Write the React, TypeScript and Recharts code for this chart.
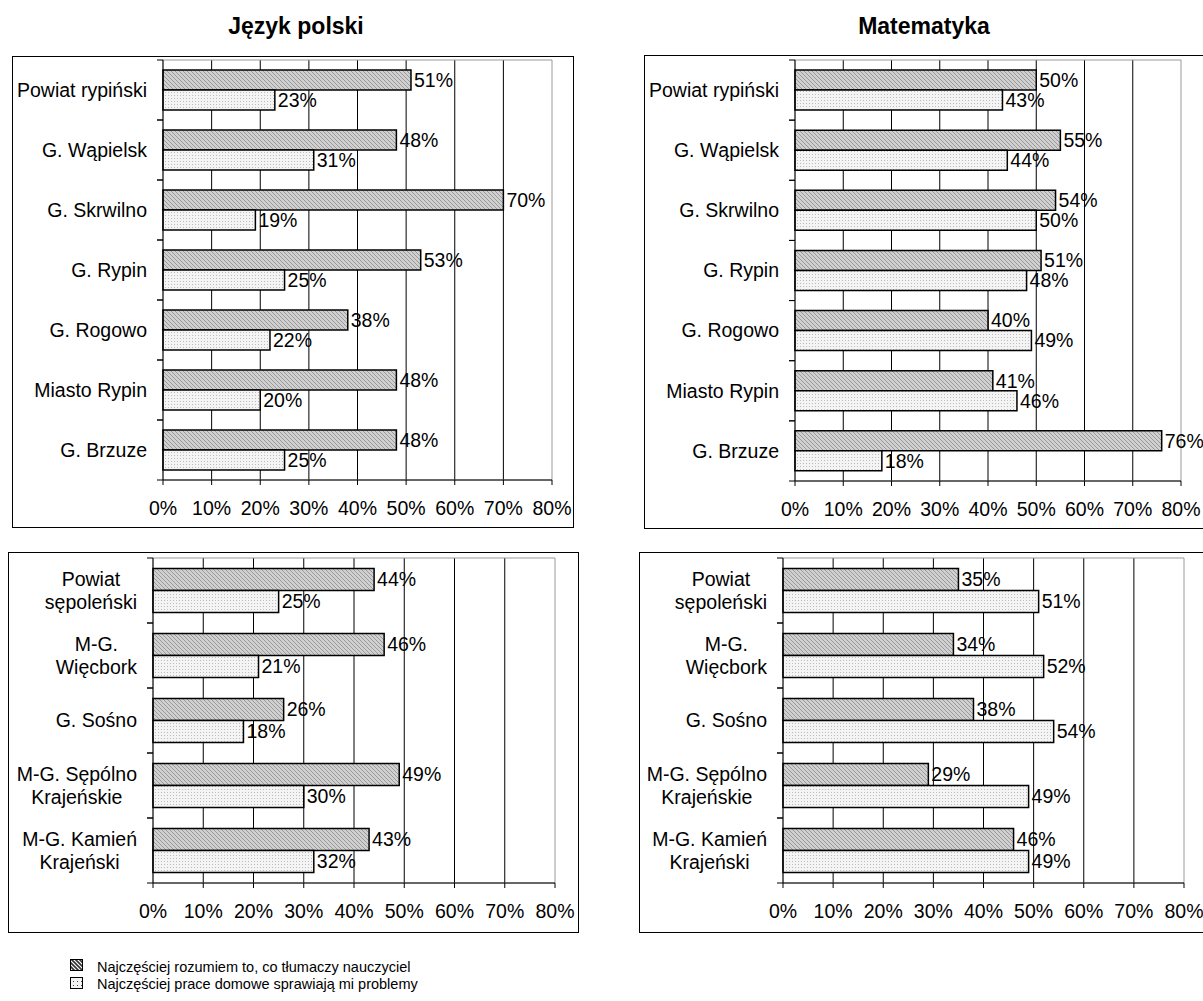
import React from 'react';
import { BarChart, Bar, XAxis, YAxis, CartesianGrid, LabelList, ReferenceArea } from 'recharts';

const FONT = "'Liberation Sans', Arial, Helvetica, sans-serif";
const FS = 19.5;

const titles = ['Język polski', 'Matematyka'];
const seriesNames = [
  'Najczęściej rozumiem to, co tłumaczy nauczyciel',
  'Najczęściej prace domowe sprawiają mi problemy',
];

const rypinCategories = ['Powiat rypiński', 'G. Wąpielsk', 'G. Skrwilno', 'G. Rypin', 'G. Rogowo', 'Miasto Rypin', 'G. Brzuze'];
const rypinLabelLines = [['Powiat rypiński'], ['G. Wąpielsk'], ['G. Skrwilno'], ['G. Rypin'], ['G. Rogowo'], ['Miasto Rypin'], ['G. Brzuze']];
const rypinPolskiRozumiem = [51, 48, 70, 53, 38, 48, 48];
const rypinPolskiProblemy = [23, 31, 19, 25, 22, 20, 25];
const rypinMatRozumiem = [50, 55, 54, 51, 40, 41, 76];
const rypinMatProblemy = [43, 44, 50, 48, 49, 46, 18];

const sepCategories = ['Powiat sępoleński', 'M-G. Więcbork', 'G. Sośno', 'M-G. Sępólno Krajeńskie', 'M-G. Kamień Krajeński'];
const sepLabelLines = [['Powiat', 'sępoleński'], ['M-G.', 'Więcbork'], ['G. Sośno'], ['M-G. Sępólno', 'Krajeńskie'], ['M-G. Kamień', 'Krajeński']];
const sepPolskiRozumiem = [44, 46, 26, 49, 43];
const sepPolskiProblemy = [25, 21, 18, 30, 32];
const sepMatRozumiem = [35, 34, 38, 29, 46];
const sepMatProblemy = [51, 52, 54, 49, 49];

const xTicks = [0, 10, 20, 30, 40, 50, 60, 70, 80];
const gridValues = [10, 20, 30, 40, 50, 60, 70];

let measureCtx: CanvasRenderingContext2D | null = null;
function textWidth(s: string, size: number): number {
  if (!measureCtx) {
    const c = document.createElement('canvas');
    measureCtx = c.getContext('2d');
  }
  if (!measureCtx) return s.length * size * 0.5;
  measureCtx.font = `${size}px "Liberation Sans", Arial, sans-serif`;
  return measureCtx.measureText(s).width;
}

type Rect = { left: number; top: number; width: number; height: number };
type PlotR = { left: number; top: number; right: number; bottom: number };

function Patterns({ id }: { id: string }) {
  return (
    <defs>
      <pattern id={`hatch-${id}`} width="4" height="4" patternUnits="userSpaceOnUse">
        <rect width="4" height="4" fill="#d0d0d0" />
        <path d="M0,0 L4,4 M-1,3 L1,5 M3,-1 L5,1" stroke="#9a9a9a" strokeWidth="1" />
      </pattern>
      <pattern id={`dots-${id}`} width="3" height="3" patternUnits="userSpaceOnUse">
        <rect width="3" height="3" fill="#f4f4f4" />
        <rect width="1" height="1" fill="#bcbcbc" />
      </pattern>
    </defs>
  );
}

function Panel(props: {
  id: string;
  box: Rect;
  boxExtra: number;
  plot: PlotR;
  names: string[];
  lines: string[][];
  a: number[];
  b: number[];
  catGap: number;
}) {
  const { id, box, boxExtra, plot, names, lines, a, b, catGap } = props;
  const data = names.map((n, i) => ({ name: n, a: a[i], b: b[i] }));
  const yWidth = plot.left - box.left;
  const marginTop = plot.top - box.top;
  const xHeight = box.top + box.height - plot.bottom;
  const marginRight = box.left + box.width - plot.right;
  const band = (plot.bottom - plot.top) / names.length;

  const renderTick = (tp: any) => {
    const y = tp.y;
    const idx = names.indexOf(tp.payload?.value);
    const ls = idx >= 0 ? lines[idx] : [String(tp.payload?.value)];
    const maxW = Math.max(...ls.map((l) => textWidth(l, FS)));
    const cx = yWidth - 16 - maxW / 2;
    const n = ls.length;
    return (
      <g>
        <line x1={yWidth - 6} x2={yWidth} y1={y - band / 2} y2={y - band / 2} stroke="#000" strokeWidth={1} />
        <line x1={yWidth - 6} x2={yWidth} y1={y + band / 2} y2={y + band / 2} stroke="#000" strokeWidth={1} />
        {ls.map((l, i) => (
          <text
            key={i}
            x={cx}
            y={y + (i - (n - 1) / 2) * 23}
            dy="0.35em"
            textAnchor="middle"
            fontSize={FS}
            fontFamily={FONT}
            fill="#000"
          >
            {l}
          </text>
        ))}
      </g>
    );
  };

  return (
    <>
      <div
        style={{
          position: 'absolute',
          left: box.left,
          top: box.top,
          width: box.width + boxExtra,
          height: box.height,
          border: '1.5px solid #000',
          boxSizing: 'border-box',
          background: '#fff',
        }}
      />
      <div style={{ position: 'absolute', left: box.left, top: box.top }}>
        <BarChart
          width={box.width}
          height={box.height}
          data={data}
          layout="vertical"
          margin={{ top: marginTop, right: marginRight, bottom: 0, left: 0 }}
          barCategoryGap={catGap}
          barGap={0}
        >
          <Patterns id={id} />
          <CartesianGrid horizontal={false} vertical={true} stroke="#000" strokeWidth={1} verticalValues={gridValues} />
          <ReferenceArea x1={0} x2={80} fill="none" stroke="#9a9a9a" strokeWidth={1} />
          <XAxis
            type="number"
            domain={[0, 80]}
            ticks={xTicks}
            interval={0}
            tickFormatter={(v: number) => `${v}%`}
            tick={{ fontSize: FS, fill: '#000', fontFamily: FONT }}
            tickSize={5}
            tickMargin={16}
            axisLine={{ stroke: '#000' }}
            tickLine={{ stroke: '#000' }}
            height={xHeight}
          />
          <YAxis
            type="category"
            dataKey="name"
            width={yWidth}
            interval={0}
            tick={renderTick}
            tickLine={false}
            axisLine={{ stroke: '#000' }}
          />
          <Bar dataKey="a" fill={`url(#hatch-${id})`} stroke="#000" strokeWidth={1.5} isAnimationActive={false}>
            <LabelList
              dataKey="a"
              position="right"
              offset={3}
              formatter={(v: any) => `${v}%`}
              fill="#000"
              fontSize={FS}
              fontFamily={FONT}
            />
          </Bar>
          <Bar dataKey="b" fill={`url(#dots-${id})`} stroke="#000" strokeWidth={1.5} isAnimationActive={false}>
            <LabelList
              dataKey="b"
              position="right"
              offset={3}
              formatter={(v: any) => `${v}%`}
              fill="#000"
              fontSize={FS}
              fontFamily={FONT}
            />
          </Bar>
        </BarChart>
      </div>
    </>
  );
}

function Legend() {
  return (
    <svg style={{ position: 'absolute', left: 0, top: 940 }} width={600} height={61}>
      <defs>
        <pattern id="leg-hatch" width="4" height="4" patternUnits="userSpaceOnUse">
          <rect width="4" height="4" fill="#ffffff" />
          <path d="M0,0 L4,4 M-1,3 L1,5 M3,-1 L5,1" stroke="#333" strokeWidth="1.6" />
        </pattern>
        <pattern id="leg-dots" width="4" height="4" patternUnits="userSpaceOnUse">
          <rect width="4" height="4" fill="#f2f2f2" />
          <rect x="1" y="1" width="1" height="1" fill="#444" />
        </pattern>
      </defs>
      <rect x={70.5} y={19.5} width={12} height={11} fill="url(#leg-hatch)" stroke="#000" strokeWidth={1} />
      <rect x={70.5} y={37.5} width={12} height={11} fill="url(#leg-dots)" stroke="#000" strokeWidth={1} />
      <text x={97} y={27} dy="0.35em" fontSize={14.5} fontFamily={FONT} fill="#000">
        {seriesNames[0]}
      </text>
      <text x={97} y={44} dy="0.35em" fontSize={14.5} fontFamily={FONT} fill="#000">
        {seriesNames[1]}
      </text>
    </svg>
  );
}

export default function App() {
  const titleStyle: React.CSSProperties = {
    position: 'absolute',
    width: 300,
    top: 13,
    textAlign: 'center',
    fontWeight: 'bold',
    fontSize: 23,
    lineHeight: '27px',
    color: '#000',
  };
  return (
    <div
      style={{
        position: 'absolute',
        left: 0,
        top: 0,
        width: 1203,
        height: 1001,
        overflow: 'hidden',
        background: '#fff',
        fontFamily: FONT,
      }}
    >
      <div style={{ ...titleStyle, left: 146 }}>{titles[0]}</div>
      <div style={{ ...titleStyle, left: 774 }}>{titles[1]}</div>

      <Panel
        id="tl"
        box={{ left: 12, top: 56, width: 562, height: 472 }}
        boxExtra={0}
        plot={{ left: 163, top: 60, right: 552, bottom: 480 }}
        names={rypinCategories}
        lines={rypinLabelLines}
        a={rypinPolskiRozumiem}
        b={rypinPolskiProblemy}
        catGap={10}
      />
      <Panel
        id="tr"
        box={{ left: 644, top: 55, width: 580, height: 474 }}
        boxExtra={40}
        plot={{ left: 795, top: 60, right: 1181, bottom: 481 }}
        names={rypinCategories}
        lines={rypinLabelLines}
        a={rypinMatRozumiem}
        b={rypinMatProblemy}
        catGap={10}
      />
      <Panel
        id="bl"
        box={{ left: 8, top: 552, width: 571, height: 381 }}
        boxExtra={0}
        plot={{ left: 153, top: 558, right: 555, bottom: 883 }}
        names={sepCategories}
        lines={sepLabelLines}
        a={sepPolskiRozumiem}
        b={sepPolskiProblemy}
        catGap={10.5}
      />
      <Panel
        id="br"
        box={{ left: 639, top: 552, width: 590, height: 381 }}
        boxExtra={40}
        plot={{ left: 783, top: 558, right: 1184, bottom: 883 }}
        names={sepCategories}
        lines={sepLabelLines}
        a={sepMatRozumiem}
        b={sepMatProblemy}
        catGap={10.5}
      />
      <Legend />
    </div>
  );
}
